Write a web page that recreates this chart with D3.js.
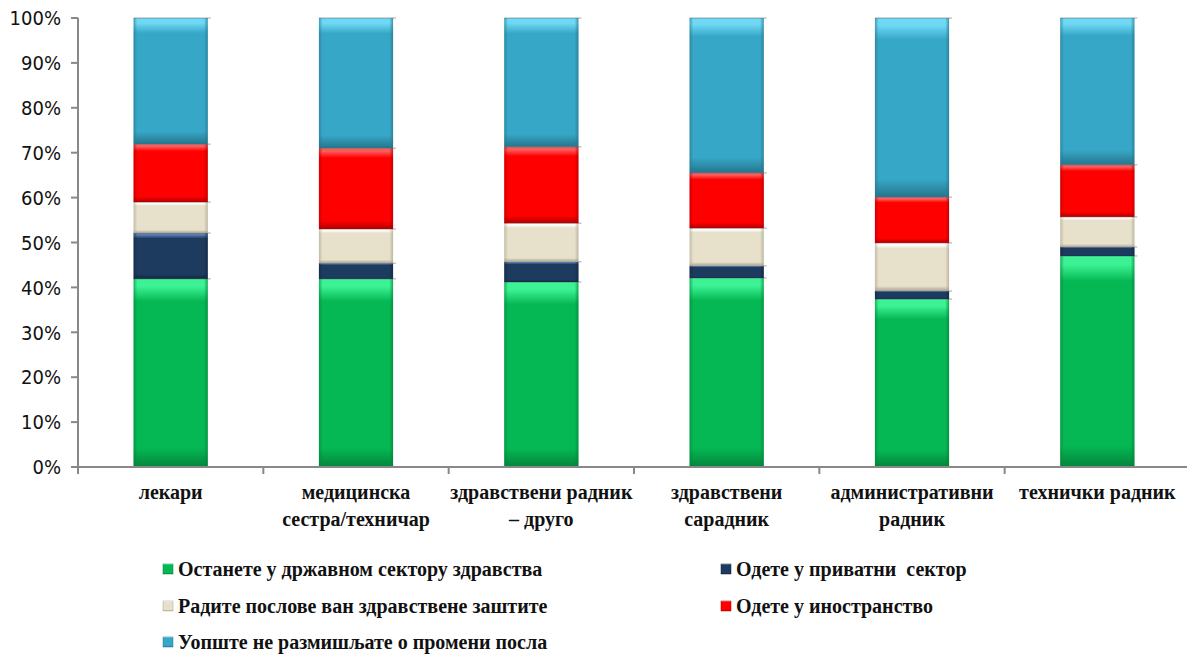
<!DOCTYPE html>
<html><head><meta charset="utf-8">
<script src="https://cdn.jsdelivr.net/npm/d3@7/dist/d3.min.js"></script>
<style>body{margin:0;background:#fff}svg{display:block}text{white-space:pre}</style>
</head><body>
<svg id="c" width="1187" height="657"></svg>
<script>
const categories = [["лекари"],["медицинска","сестра/техничар"],["здравствени радник","– друго"],["здравствени","сарадник"],["административни","радник"],["технички радник"]];
const seriesNames = ["Останете у државном сектору здравства","Одете у приватни  сектор","Радите послове ван здравствене заштите","Одете у иностранство","Уопште не размишљате о промени посла"];
const stay    = [41.9, 41.9, 41.2, 42.1, 37.4, 47.0];
const priv    = [10.2, 3.5, 4.5, 2.7, 1.8, 2.0];
const outside = [6.9, 7.6, 8.6, 8.4, 10.7, 6.7];
const abroad  = [12.9, 18.0, 17.0, 12.3, 10.2, 11.6];
const none    = [28.1, 29.0, 28.7, 34.5, 39.9, 32.7];
const yTicks = [0,10,20,30,40,50,60,70,80,90,100];
const colors = ["#05b853","#1d3a5f","#e7e1cb","#ff0000","#37a7c7"];
const lights = ["#3cf294","#5a7fb0","#ffffff","#ff5a5a","#6fd8f5"];
const darks  = ["#03843c","#122640","#a8a390","#b00000","#25758c"];

const svg = d3.select("#c");
const m = {l:78, r:1190, t:18, b:467};
const x = d3.scaleBand().domain(d3.range(categories.length)).range([m.l, m.r]).paddingInner(0.6).paddingOuter(0.3);
const xb = d3.scaleBand().domain(d3.range(categories.length)).range([m.l, m.r]);
const y = d3.scaleLinear().domain([0,100]).range([m.b, m.t]);

const defs = svg.append("defs");
colors.forEach((c,i)=>{
  const g = defs.append("linearGradient").attr("id","gv"+i).attr("x1",0).attr("y1",0).attr("x2",0).attr("y2",1);
  g.append("stop").attr("offset",0).attr("stop-color",lights[i]);
  g.append("stop").attr("offset",0.04).attr("stop-color",lights[i]);
  g.append("stop").attr("offset",0.12).attr("stop-color",c);
  g.append("stop").attr("offset",0.9).attr("stop-color",c);
  g.append("stop").attr("offset",1).attr("stop-color",darks[i]);
  const h = defs.append("linearGradient").attr("id","gh"+i).attr("x1",0).attr("y1",0).attr("x2",1).attr("y2",0);
  h.append("stop").attr("offset",0).attr("stop-color",darks[i]).attr("stop-opacity",0.6);
  h.append("stop").attr("offset",0.05).attr("stop-color",darks[i]).attr("stop-opacity",0);
  h.append("stop").attr("offset",0.95).attr("stop-color",darks[i]).attr("stop-opacity",0);
  h.append("stop").attr("offset",1).attr("stop-color",darks[i]).attr("stop-opacity",0.7);
});

const data = categories.map((c,i)=>({i, vals:[stay[i],priv[i],outside[i],abroad[i],none[i]]}));
const stack = d3.stack().keys([0,1,2,3,4]).value((d,k)=>d.vals[k])(data);

stack.forEach((layer,k)=>{
  const g = svg.append("g");
  layer.forEach((d,j)=>{
    const x0 = x(j), w = x.bandwidth(), yt = y(d[1]), h = y(d[0]) - y(d[1]);
    g.append("rect").attr("x",x0).attr("y",yt).attr("width",w).attr("height",h).attr("fill",`url(#gv${k})`);
    g.append("rect").attr("x",x0).attr("y",yt).attr("width",w).attr("height",h).attr("fill",`url(#gh${k})`);
    g.append("line").attr("x1",x0).attr("x2",x0+w+3).attr("y1",yt).attr("y2",yt).attr("stroke","#555").attr("stroke-width",1).attr("opacity",0.5);
  });
});

// axes
const axisColor = "#888";
svg.append("line").attr("x1",m.l).attr("x2",m.l).attr("y1",m.t).attr("y2",m.b).attr("stroke",axisColor).attr("stroke-width",2);
svg.append("line").attr("x1",m.l).attr("x2",m.r).attr("y1",m.b).attr("y2",m.b).attr("stroke",axisColor).attr("stroke-width",2);
yTicks.forEach(t=>{
  svg.append("line").attr("x1",m.l-7).attr("x2",m.l).attr("y1",y(t)).attr("y2",y(t)).attr("stroke",axisColor).attr("stroke-width",2);
  svg.append("text").attr("x",61).attr("y",y(t)).attr("dy","0.36em").attr("text-anchor","end")
    .attr("font-family","'DejaVu Sans Condensed', 'DejaVu Sans'").attr("font-size",20).attr("fill","#111").text(t+"%");
});
d3.range(categories.length+1).forEach(j=>{
  const xx = j<categories.length ? xb(j) : m.r;
  svg.append("line").attr("x1",xx).attr("x2",xx).attr("y1",m.b).attr("y2",m.b+7).attr("stroke",axisColor).attr("stroke-width",2);
});
categories.forEach((lines,j)=>{
  const cx = xb(j)+xb.bandwidth()/2;
  lines.forEach((t,li)=>{
    svg.append("text").attr("x",cx).attr("y",499+li*27).attr("text-anchor","middle")
      .attr("font-family","Liberation Serif").attr("font-weight","bold").attr("font-size",20).attr("fill","#111").text(t);
  });
});

// legend
const legPos = [[163,570],[721,570],[163,607],[721,607],[163,643]];
const legOrder = [0,1,2,3,4];
legOrder.forEach((k,idx)=>{
  const [lx,ly] = legPos[idx];
  svg.append("rect").attr("x",lx).attr("y",ly-6).attr("width",10).attr("height",10).attr("fill",`url(#gv${k})`).attr("stroke",darks[k]).attr("stroke-width",0.5);
  svg.append("text").attr("x",lx+15).attr("y",ly+6).attr("font-family","Liberation Serif").attr("font-weight","bold").attr("font-size",20).attr("fill","#111").text(seriesNames[k]);
});
</script>
</body></html>
